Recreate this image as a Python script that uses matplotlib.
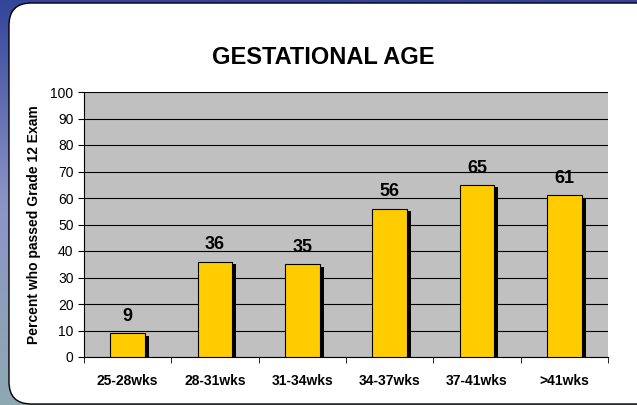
import matplotlib.pyplot as plt
import numpy as np
from matplotlib.patches import FancyBboxPatch

categories = ["25-28wks", "28-31wks", "31-34wks", "34-37wks", "37-41wks", ">41wks"]
percent_passed = [9, 36, 35, 56, 65, 61]
title = "GESTATIONAL AGE"
ylabel = "Percent who passed Grade 12 Exam"

plt.rcParams['font.family'] = ['Liberation Sans', 'DejaVu Sans']

fig = plt.figure(figsize=(6.37, 4.05), dpi=100)

# background: bluish gradient behind the white panel
bg = fig.add_axes([0, 0, 1, 1], zorder=-10)
grad = np.linspace(0, 1, 256).reshape(-1, 1)
cols = np.array([[0.20, 0.27, 0.60], [0.55, 0.58, 0.78], [0.56, 0.66, 0.70]])
img = np.zeros((256, 1, 3))
for c in range(3):
    img[:, 0, c] = np.interp(grad[:, 0], [0, 0.5, 1], cols[:, c])
bg.imshow(img, aspect='auto', extent=[0, 1, 0, 1])
bg.set_xlim(0, 1)
bg.set_ylim(0, 1)
bg.axis('off')

panel = FancyBboxPatch((9 / 637, 1 / 405), 650 / 637, 401 / 405,
                       boxstyle="round,pad=0,rounding_size=0.035",
                       transform=fig.transFigure, facecolor='white',
                       edgecolor='black', linewidth=1.0, zorder=-5,
                       mutation_aspect=637 / 405)
fig.patches.append(panel)

ax = fig.add_axes([84 / 637, 1 - 357 / 405, (608 - 84) / 637, (357 - 92) / 405])
ax.set_facecolor('#c0c0c0')

x = np.arange(len(categories))
w = 0.40
# shadow bars
ax.bar(x + 0.045, percent_passed, width=w, bottom=-1.0, color='black', zorder=2)
ax.bar(x, percent_passed, width=w, color='#ffcc00', edgecolor='black',
       linewidth=0.8, zorder=3)

for xi, v in zip(x, percent_passed):
    ax.annotate(str(v), (xi, v), xytext=(0, 12), textcoords='offset points',
                ha='center', va='center', fontsize=13, fontweight='bold')

ax.set_xlim(-0.5, len(categories) - 0.5)
ax.set_ylim(0, 100)
ax.set_yticks(range(0, 101, 10))
ax.yaxis.grid(True, color='black', linewidth=0.8)
ax.set_axisbelow(True)

ax.set_xticks(x)
ax.set_xticklabels(categories, fontsize=10, fontweight='bold')
ax.set_xticks(np.arange(-0.5, len(categories)), minor=True)
ax.tick_params(axis='x', which='major', length=0, pad=12)
ax.tick_params(axis='x', which='minor', length=4, direction='out')
ax.tick_params(axis='y', length=4, direction='out', labelsize=10)

for s in ['top', 'right']:
    ax.spines[s].set_visible(False)
ax.spines['left'].set_linewidth(0.8)
ax.spines['bottom'].set_linewidth(0.8)

ax.set_ylabel(ylabel, fontsize=10, fontweight='bold', labelpad=7)
fig.text(323 / 637, 1 - 57 / 405, title, ha='center', va='center',
         fontsize=17, fontweight='bold')

fig.savefig('out.png', dpi=100)
